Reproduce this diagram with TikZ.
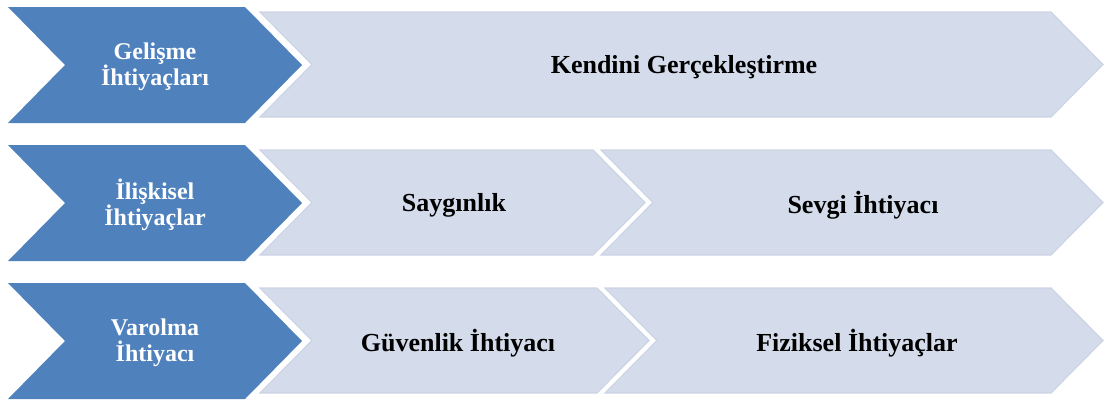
\documentclass[tikz,border=0pt]{standalone}
\usepackage{fontspec}
\setmainfont{Liberation Serif}
\definecolor{bluefill}{RGB}{79,129,189}
\definecolor{lightfill}{RGB}{212,219,234}
\definecolor{lightline}{RGB}{204,212,229}
\tikzset{
  bluechev/.style={fill=bluefill, draw=none},
  lightchev/.style={fill=lightfill, draw=lightline, line width=0.9pt, line join=miter},
  bluetext/.style={text=white, font=\fontsize{18}{19.5}\selectfont\bfseries, align=center, inner sep=0pt},
  lighttext/.style={text=black, font=\fontsize{19.5}{22}\selectfont\bfseries, align=center, inner sep=0pt}
}
\begin{document}
\begin{tikzpicture}[x=0.75pt,y=-0.75pt]
\useasboundingbox (0,0) rectangle (1117,401);
% rows offset 138 px
\foreach \dy in {0,138,276}{
  \fill[bluechev] (8,7+\dy) -- (245,7+\dy) -- (302,65+\dy) -- (245,123+\dy) -- (8,123+\dy) -- (65,65+\dy) -- cycle;
}
% row 1 light
\draw[lightchev] (260,12) -- (1051,12) -- (1103,64.5) -- (1051,117) -- (260,117) -- (312,64.5) -- cycle;
% row 2 light
\draw[lightchev] (260,150) -- (593,150) -- (645,202.5) -- (593,255) -- (260,255) -- (312,202.5) -- cycle;
\draw[lightchev] (601,150) -- (1051,150) -- (1103,202.5) -- (1051,255) -- (601,255) -- (653,202.5) -- cycle;
% row 3 light
\draw[lightchev] (260,288) -- (597,288) -- (649,340.5) -- (597,393) -- (260,393) -- (312,340.5) -- cycle;
\draw[lightchev] (605,288) -- (1051,288) -- (1103,340.5) -- (1051,393) -- (605,393) -- (657,340.5) -- cycle;
% texts
\node[bluetext] (g1) at (155,67) {Gelişme\\İhtiyaçları};
\node[bluetext] (g2) at (155,205) {İlişkisel\\İhtiyaçlar};
\node[bluetext] (g3) at (155,343) {Varolma\\İhtiyacı};
\node[lighttext] (k1) at (684,67) {Kendini Gerçekleştirme};
\node[lighttext] (s1) at (454,205) {Saygınlık};
\node[lighttext] (s2) at (863,205) {Sevgi İhtiyacı};
\node[lighttext] (v1) at (458,343) {Güvenlik İhtiyacı};
\node[lighttext] (v2) at (857,343) {Fiziksel İhtiyaçlar};
\end{tikzpicture}
\end{document}
